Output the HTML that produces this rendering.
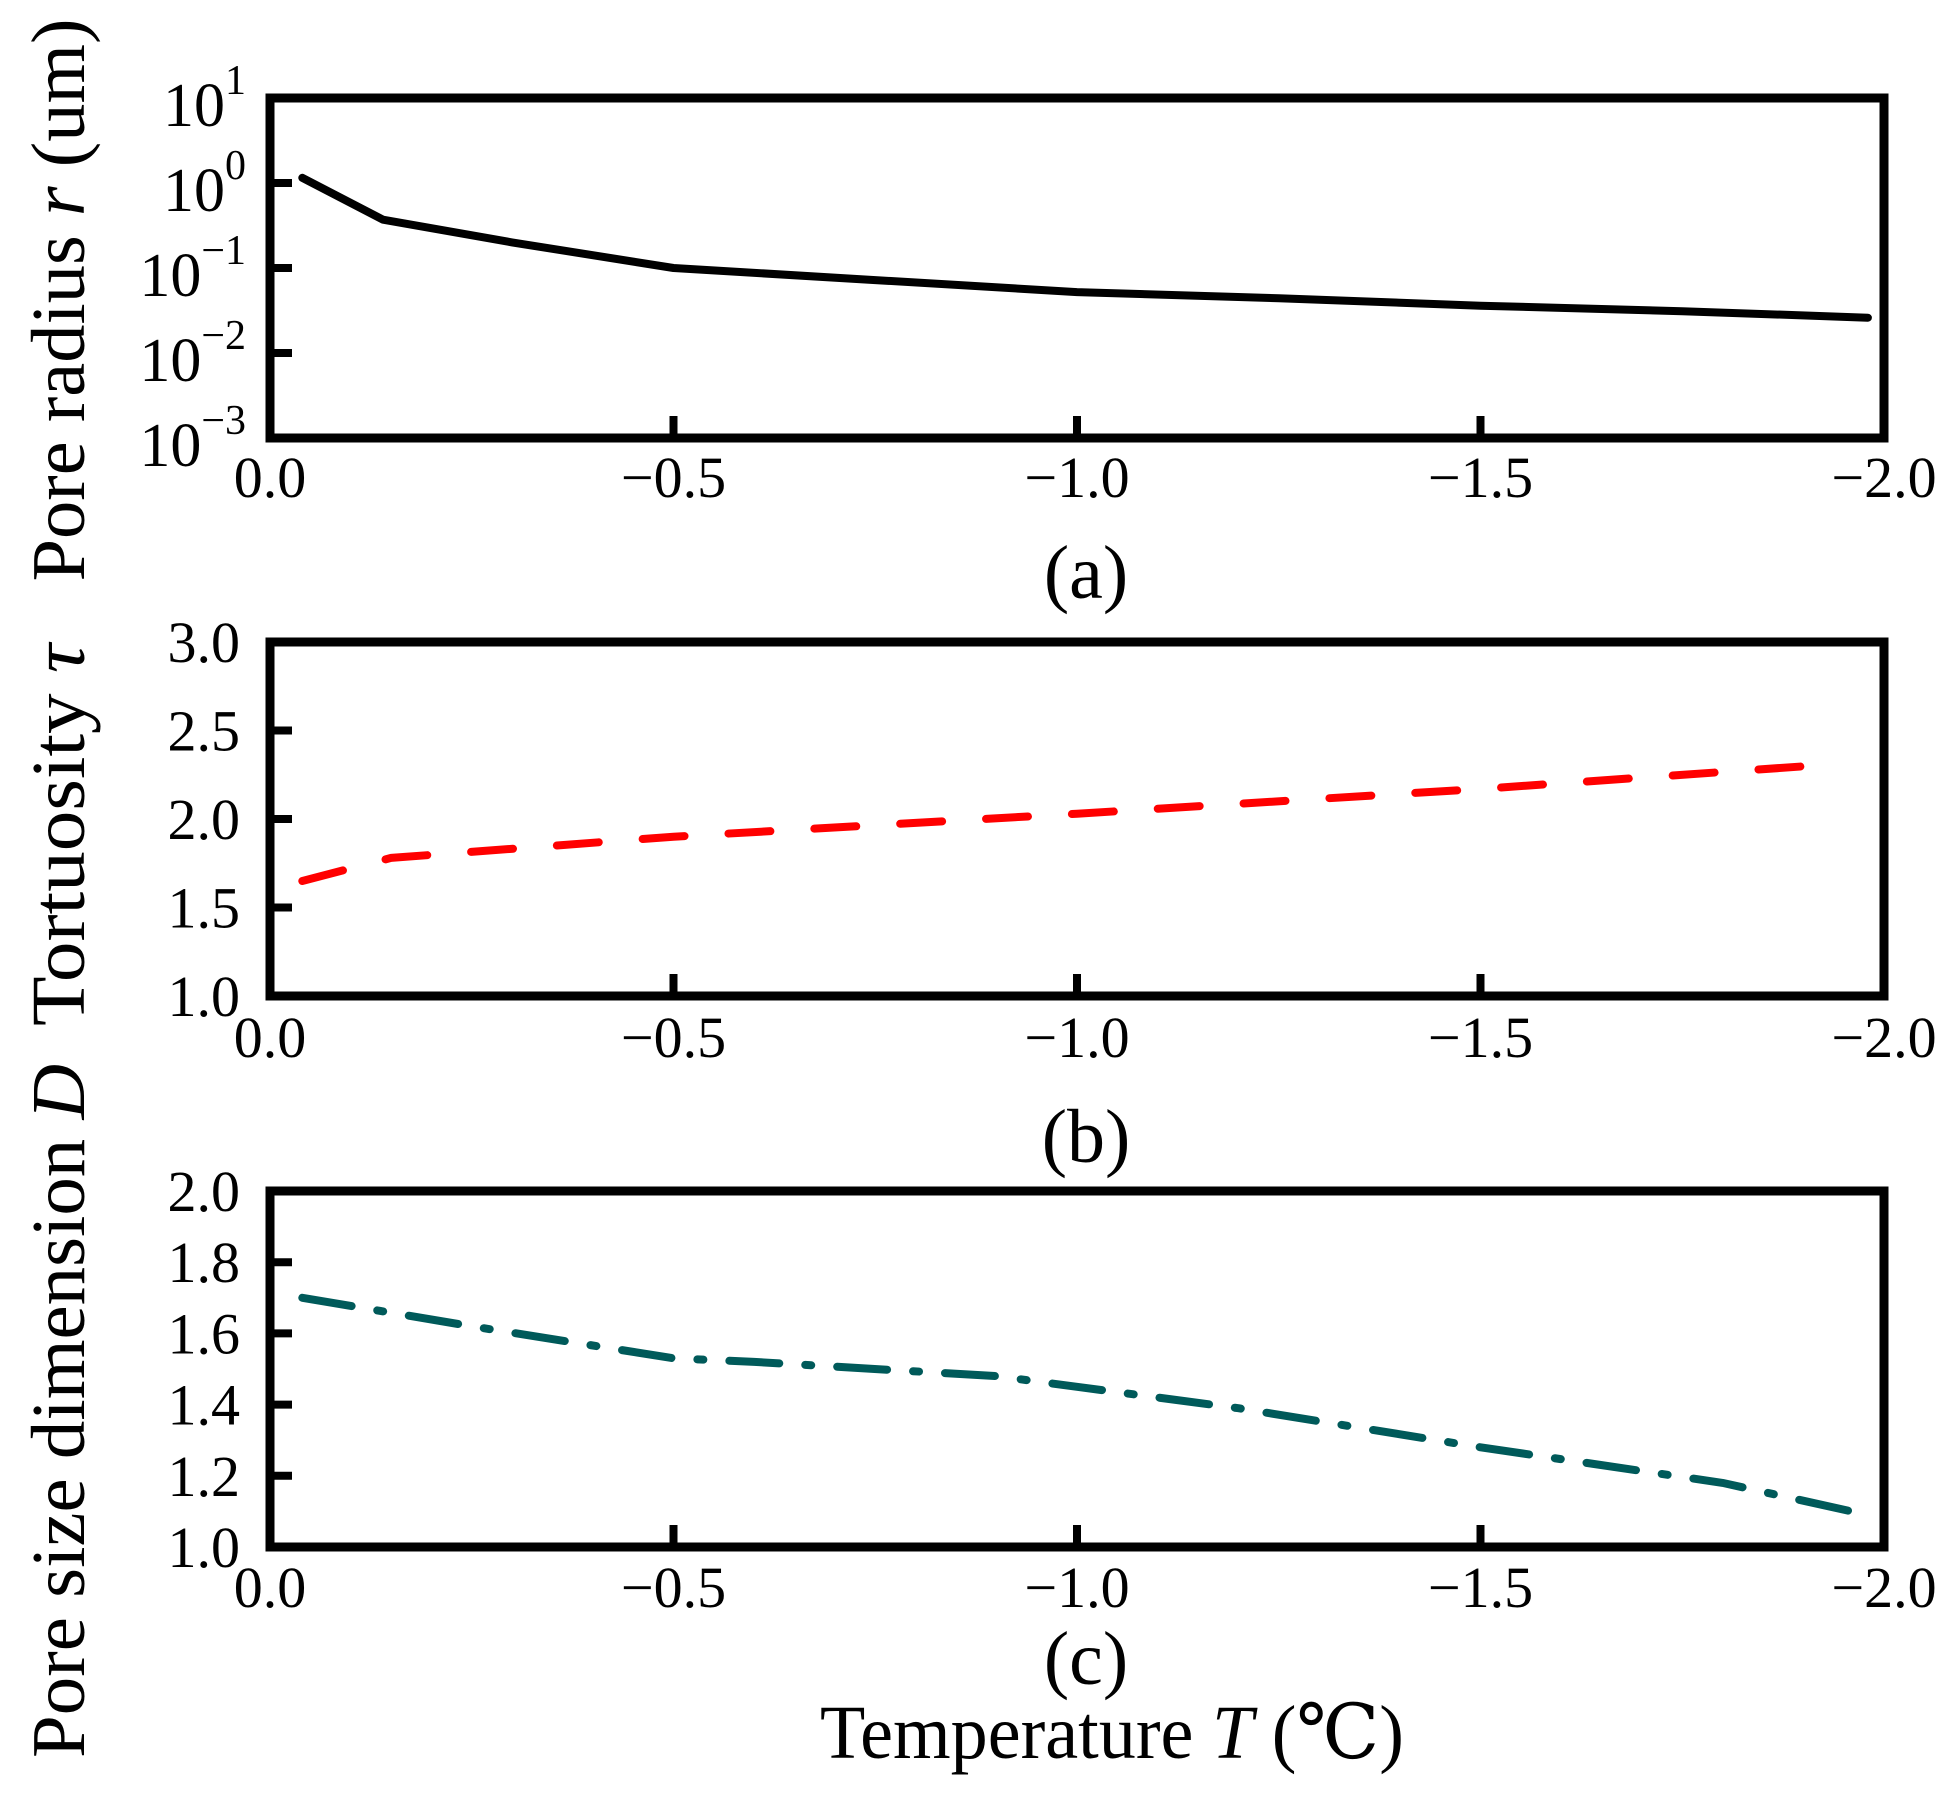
<!DOCTYPE html>
<html><head><meta charset="utf-8"><style>
html,body{margin:0;padding:0;background:#fff}
svg{display:block}
text{font-family:"Liberation Serif","DejaVu Serif",serif;fill:#000}
</style></head><body>
<svg id="fig" width="1952" height="1794" viewBox="0 0 1952 1794" xmlns="http://www.w3.org/2000/svg"></svg>
<script>
const xTicks=[0,-0.5,-1,-1.5,-2];
const xTickLabels=["0.0","\u22120.5","\u22121.0","\u22121.5","\u22122.0"];
// panel a
const aT=[-0.04,-0.14,-0.3,-0.5,-0.75,-1.0,-1.25,-1.5,-1.75,-1.98];
const aR=[1.15,0.37,0.2,0.1,0.072,0.052,0.044,0.036,0.031,0.026];
const aTickExp=[1,0,-1,-2,-3];
// panel b
const bT=[-0.04,-0.15,-0.5,-1.0,-1.5,-1.94];
const bTau=[1.65,1.78,1.90,2.03,2.17,2.31];
const bTicks=[1.0,1.5,2.0,2.5,3.0];
const bTickLabels=["1.0","1.5","2.0","2.5","3.0"];
// panel c
const cT=[-0.04,-0.25,-0.5,-0.6,-0.9,-1.0,-1.2,-1.5,-1.8,-1.98];
const cD=[1.70,1.62,1.53,1.52,1.48,1.45,1.39,1.28,1.18,1.09];
const cTicks=[1.0,1.2,1.4,1.6,1.8,2.0];
const cTickLabels=["1.0","1.2","1.4","1.6","1.8","2.0"];

const NS="http://www.w3.org/2000/svg";
const svg=document.getElementById('fig');
function el(tag,attrs,parent,txt){const e=document.createElementNS(NS,tag);for(const k in attrs)e.setAttribute(k,attrs[k]);if(txt!==undefined)e.textContent=txt;(parent||svg).appendChild(e);return e;}
const L=270,R=1884;
const xs=t=>L+(-t)/2*(R-L);

function frame(name,top,bot,ySc,yTickVals,labelFn,xLabY,panelLabel,panelY){
  const g=el('g',{});
  
  
  const r=el('rect',{x:L,y:top,width:R-L,height:bot-top,fill:'none',stroke:'#000','stroke-width':9},g);
  
  
  xTicks.forEach((t,i)=>{
    if(i>0&&i<xTicks.length-1){const tk=el('line',{x1:xs(t),x2:xs(t),y1:bot,y2:bot-22,stroke:'#000','stroke-width':8},g);
    
    }
    const tx=el('text',{x:xs(t),y:xLabY,'text-anchor':'middle','font-size':58},g,xTickLabels[i]);
    
    
  });
  yTickVals.forEach((v,i)=>{
    const y=ySc(v);
    if(Math.abs(y-top)>4&&Math.abs(y-bot)>4){const tk=el('line',{x1:L,x2:L+22,y1:y,y2:y,stroke:'#000','stroke-width':8},g);
      
      }
    labelFn(v,i,y,g);
  });
  const pl=el('text',{x:1086,y:panelY,'text-anchor':'middle','font-size':76},g,panelLabel);
  
  
  return g;
}
function line(xArr,yArr,xsF,ysF,stroke,dash,g,name){
  const d=xArr.map((t,i)=>(i?'L':'M')+xsF(t).toFixed(1)+' '+ysF(yArr[i]).toFixed(1)).join(' ');
  const p=el('path',{d:d,fill:'none',stroke:stroke,'stroke-width':8,'stroke-linecap':'round','stroke-linejoin':'round'},g);
  if(dash)p.setAttribute('stroke-dasharray',dash);
  
  
}
// Panel a
const aTop=98,aBot=438;
const ysA=v=>aBot-(Math.log10(v)+3)*85;
const gA=frame('panel-a',aTop,aBot,v=>aBot-(v+3)*85,aTickExp,(v,i,y,g)=>{
  const t=el('text',{x:246,y:y+28,'text-anchor':'end','font-size':62},g);
  
  
  el('tspan',{},t,'10');
  el('tspan',{dy:-32,'font-size':42},t,v<0?'\u2212'+(-v):String(v));
},497,'(a)',598);
line(aT,aR,xs,ysA,'#000',null,gA,'pore-radius-line');

// Panel b
const bTop=642,bBot=996;
const ysB=v=>bBot-(v-1)*(bBot-bTop)/2;
const gB=frame('panel-b',bTop,bBot,ysB,bTicks,(v,i,y,g)=>{
  const t=el('text',{x:240,y:y+20,'text-anchor':'end','font-size':58},g,bTickLabels[i]);
  
  
},1057,'(b)',1162);
line(bT,bTau,xs,ysB,'#ff0000','42 44',gB,'tortuosity-line');

// Panel c
const cTop=1191,cBot=1547;
const ysC=v=>cBot-(v-1)*(cBot-cTop);
const gC=frame('panel-c',cTop,cBot,ysC,cTicks,(v,i,y,g)=>{
  const t=el('text',{x:240,y:y+20,'text-anchor':'end','font-size':58},g,cTickLabels[i]);
  
  
},1607,'(c)',1684);
line(cT,cD,xs,ysC,'#005a5a','50 26 6 26',gC,'pore-size-dimension-line');

// Axis titles
function vt(cx,cy,name,len){
  const t=el('text',{x:0,y:0,'text-anchor':'middle','font-size':76,textLength:len,lengthAdjust:'spacingAndGlyphs',transform:`translate(${cx},${cy}) rotate(-90)`});
  
  
  return t;
}
let t1=vt(84,300,'y-axis-title-pore-radius',563);
el('tspan',{},t1,'Pore radius ');el('tspan',{'font-style':'italic'},t1,'r');el('tspan',{},t1,' (um)');
let t2=vt(84,835,'y-axis-title-tortuosity',382);
el('tspan',{},t2,'Tortuosity ');el('tspan',{'font-style':'italic'},t2,'\u03C4');
let t3=vt(84,1411,'y-axis-title-pore-size-dimension',694);
el('tspan',{},t3,'Pore size dimension ');el('tspan',{'font-style':'italic'},t3,'D');
const xt=el('text',{x:1112,y:1758,'text-anchor':'middle','font-size':76,textLength:584,lengthAdjust:'spacingAndGlyphs'});


el('tspan',{},xt,'Temperature ');el('tspan',{'font-style':'italic'},xt,'T');el('tspan',{},xt,' (\u2103)');
</script>
</body></html>
